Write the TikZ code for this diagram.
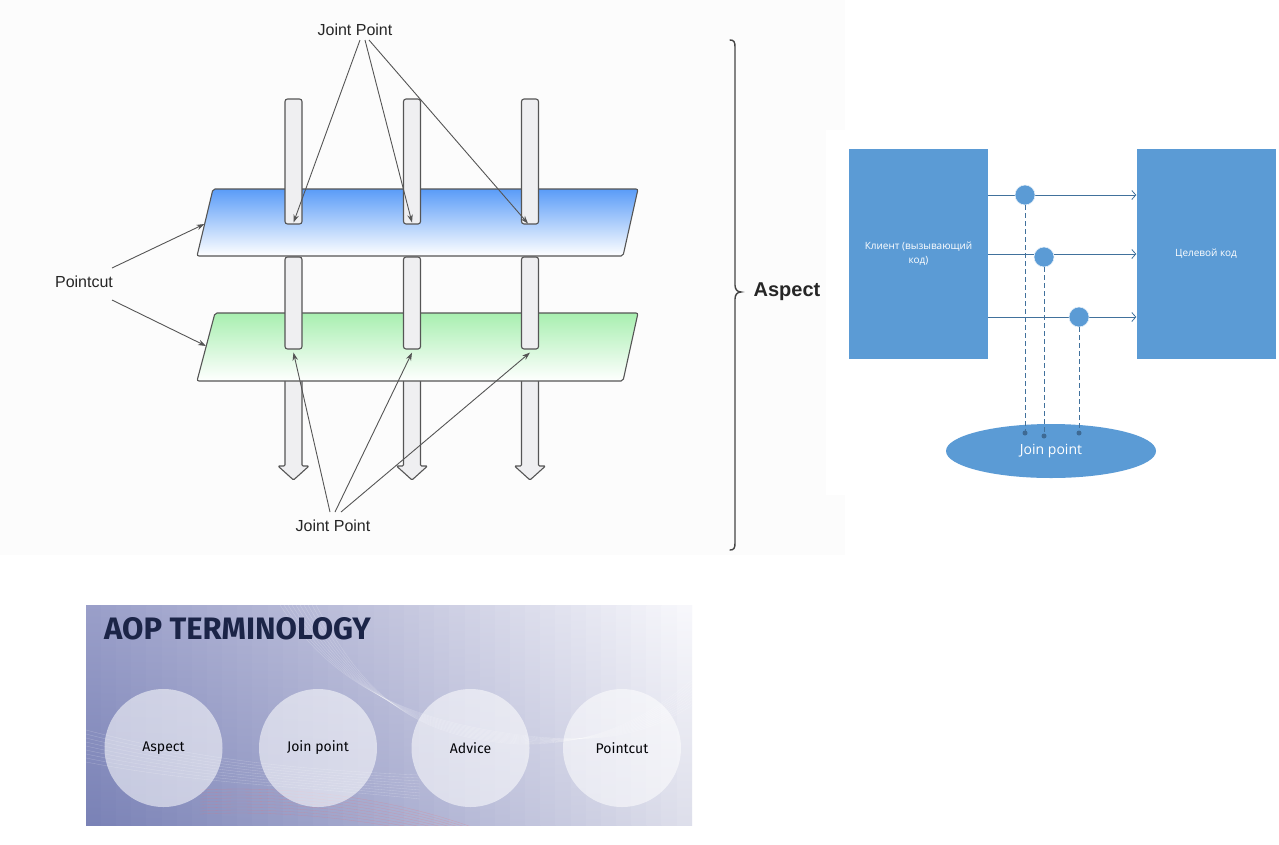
\documentclass[tikz,border=0pt]{standalone}
\usepackage{fontspec}
\setmainfont{Liberation Sans}
\newfontfamily\msfont{Open Sans}
\newfontfamily\slidefont{Fira Sans}
\usetikzlibrary{arrows.meta,shapes.geometric,calc}
\definecolor{leftbg}{HTML}{FCFCFC}
\definecolor{barfill}{HTML}{EFEFF1}
\definecolor{edge}{HTML}{555555}
\definecolor{pblue}{HTML}{5A9CF8}
\definecolor{pgreen}{HTML}{A8EFB0}
\definecolor{msblue}{HTML}{5B9BD5}
\definecolor{msline}{HTML}{41719C}
\definecolor{msdot}{HTML}{3E6A94}
\definecolor{navy}{HTML}{1B2447}
\definecolor{topA}{HTML}{9A9FC9}
\definecolor{topM}{HTML}{C4C6DE}
\definecolor{topR}{HTML}{FAFAFD}
\definecolor{botA}{HTML}{7A82B6}
\definecolor{botM}{HTML}{A9ADD0}
\definecolor{botR}{HTML}{E0E1EC}
\definecolor{bracec}{HTML}{444444}
\tikzset{
  barbox/.style={draw=edge, fill=barfill, rounded corners=2.5pt, minimum width=17pt, inner sep=0pt, line width=1.1pt},
  flowarrow/.style={draw=edge, fill=barfill, rounded corners=1.2pt, line width=1.1pt},
  plane/.style={draw=edge, rounded corners=2pt, line width=1.1pt},
  pointer/.style={draw=edge, line width=0.9pt, -{Stealth[length=8pt,width=5.5pt]}},
  lbl/.style={font=\fontsize{16}{19}\selectfont, text=black!85, inner sep=1pt},
  msbox/.style={fill=msblue, minimum width=139pt, minimum height=210pt, inner sep=0pt, text=white, align=center, font=\msfont\fontsize{10}{14}\selectfont},
  msarrow/.style={draw=msline, line width=0.8pt, -{Straight Barb[length=4pt,width=9pt]}},
  mscirc/.style={circle, fill=msblue, draw=white!85!msblue, line width=0.6pt, minimum size=20pt, inner sep=0pt},
  msdash/.style={draw=msline, line width=0.8pt, dash pattern=on 5pt off 3pt},
  msdot/.style={circle, fill=msdot, minimum size=5pt, inner sep=0pt},
  termcirc/.style={circle, fill=white, fill opacity=0.55, text opacity=1, minimum size=118pt, inner sep=0pt, text=black!88!navy, font=\slidefont\fontsize{14}{16}\selectfont},
  deco/.style={draw=white, line width=0.35pt, opacity=0.25}
}
\begin{document}
\begin{tikzpicture}[x=1pt,y=-1pt]
\useasboundingbox (0,0) rectangle (1279,844);
\fill[white] (0,0) rectangle (1279,844);
\fill[leftbg] (0,0) rectangle (845,555);
\fill[white] (826,130) rectangle (1279,495);

% ---------- left diagram ----------
\foreach \cx in {293.5,412,530}{
  \filldraw[flowarrow] (\cx-8.5,378) -- (\cx-8.5,466) -- (\cx-15.5,466) -- (\cx,480) -- (\cx+15.5,466) -- (\cx+8.5,466) -- (\cx+8.5,378) -- cycle;
}
\shadedraw[plane, top color=pgreen, middle color=pgreen!55, bottom color=white] (215,313) -- (638,313) -- (623,381) -- (197,381) -- cycle;
\node[barbox, minimum height=92pt] (b1m) at (293.5,303) {};
\node[barbox, minimum height=92pt] (b2m) at (412,303) {};
\node[barbox, minimum height=92pt] (b3m) at (530,303) {};
\shadedraw[plane, top color=pblue, middle color=pblue!55, bottom color=white] (213,189) -- (638,189) -- (623,256) -- (197,256) -- cycle;
\node[barbox, minimum height=125pt] (b1t) at (293.5,161.5) {};
\node[barbox, minimum height=125pt] (b2t) at (412,161.5) {};
\node[barbox, minimum height=125pt] (b3t) at (530,161.5) {};

\coordinate (pbl) at (204.5,224);
\coordinate (pgl) at (206,346);

\node[lbl] (jptop) at (355,30) {Joint Point};
\node[lbl] (jpbot) at (333,526) {Joint Point};
\node[lbl] (pc) at (84,282) {Pointcut};

\draw[pointer] ([xshift=5pt,yshift=-10pt]jptop.center) -- ([yshift=2pt]b1t.south);
\draw[pointer] ([xshift=10pt,yshift=-10pt]jptop.center) -- ([yshift=2pt]b2t.south);
\draw[pointer] ([xshift=14pt,yshift=-10pt]jptop.center) -- ([xshift=-2pt,yshift=1pt]b3t.south);

\draw[pointer] ([xshift=-3pt,yshift=14pt]jpbot.center) -- ([yshift=-3pt]b1m.south);
\draw[pointer] ([xshift=2pt,yshift=14pt]jpbot.center) -- ([yshift=-3pt]b2m.south);
\draw[pointer] ([xshift=8pt,yshift=14pt]jpbot.center) -- ([yshift=-3pt]b3m.south);

\draw[pointer] ([xshift=28pt,yshift=14pt]pc.center) -- (pbl);
\draw[pointer] ([xshift=28pt,yshift=-18pt]pc.center) -- (pgl);

% brace
\draw[bracec, line width=1.4pt, line cap=round]
  (730,40) .. controls (734,40) and (735,42) .. (735,47)
  -- (735,285) .. controls (735,289) and (737,292) .. (741,292)
  .. controls (737,292) and (735,295) .. (735,299)
  -- (735,543) .. controls (735,548) and (734,550) .. (730,550);
\node[font=\bfseries\fontsize{20}{24}\selectfont, text=black!85] (asp) at (787,292) {Aspect};

% ---------- right diagram ----------
\node[msbox] (cl) at (918.5,254) {Клиент (вызывающий\\код)};
\node[msbox] (tg) at (1206,254) {Целевой код};
\node[ellipse, fill=msblue, minimum width=210pt, minimum height=54pt, inner sep=0pt, text=white, font=\msfont\fontsize{14}{16}\selectfont] (je) at (1051,451) {Join point};

\coordinate (c1) at (1025,195);
\coordinate (c2) at (1044,257);
\coordinate (c3) at (1079,317);
\coordinate (d1) at (1025,433);
\coordinate (d2) at (1044,436);
\coordinate (d3) at (1079,433);

\draw[msarrow] (cl.east |- c1) -- (tg.west |- c1);
\draw[msarrow] (cl.east |- 0,254) -- (tg.west |- 0,254);
\draw[msarrow] (cl.east |- c3) -- (tg.west |- c3);
\node[mscirc] (k1) at (c1) {};
\node[mscirc] (k2) at (c2) {};
\node[mscirc] (k3) at (c3) {};
\draw[msdash] (k1.south) -- (d1);
\draw[msdash] (k2.south) -- (d2);
\draw[msdash] (k3.south) -- (d3);
\node[msdot] (e1) at (d1) {};
\node[msdot] (e2) at (d2) {};
\node[msdot] (e3) at (d3) {};

% ---------- bottom slide ----------
\begin{scope}
\clip (86,605) rectangle (692,825);
\foreach \i in {0,...,19}{
  \pgfmathtruncatemacro{\p}{100-5*\i}
  \pgfmathsetmacro{\xa}{86+\i*15.15}
  \shade[top color=topA!\p!topM, bottom color=botA!\p!botM, shading=axis] (\xa,605) rectangle (\xa+16,825);
}
\foreach \i in {0,...,19}{
  \pgfmathtruncatemacro{\p}{100-5*\i}
  \pgfmathsetmacro{\xa}{389+\i*15.15}
  \shade[top color=topM!\p!topR, bottom color=botM!\p!botR, shading=axis] (\xa,605) rectangle (\xa+16,825);
}
\foreach \k in {0,...,9}{
  \draw[deco] (280+4*\k,605) .. controls (330+3*\k,680) and (400,720+2*\k) .. (520,735+\k) .. controls (600,745) and (650,735-2*\k) .. (700,700-3*\k);
}
\foreach \k in {0,...,8}{
  \draw[deco, opacity=0.25] (86,730+4*\k) .. controls (200,760+3*\k) and (300,770+2*\k) .. (420,775+3*\k);
  \draw[draw=red!60!white, line width=0.3pt, opacity=0.3] (200,790+3*\k) .. controls (300,785+3*\k) and (400,800+3*\k) .. (480,830+2*\k);
}
\end{scope}
\node[anchor=west, inner sep=0pt, text=navy, font=\slidefont\bfseries\fontsize{31}{34}\selectfont] (title) at (104,629) {AOP TERMINOLOGY};
\node[termcirc] (t1) at (163.5,748) {Aspect};
\node[termcirc] (t2) at (318,748) {Join point};
\node[termcirc] (t3) at (470.5,748) {Advice};
\node[termcirc] (t4) at (622,748) {Pointcut};
\end{tikzpicture}
\end{document}
